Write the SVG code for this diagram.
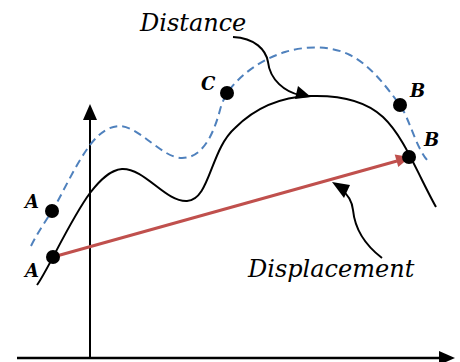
<svg xmlns="http://www.w3.org/2000/svg" width="460" height="362" viewBox="0 0 460 362">
<style>
.lbl{font-family:"DejaVu Serif","Liberation Serif",serif;font-style:italic;fill:#000}
.big{font-size:24px}
.pt{font-size:18px;font-weight:bold}
.blk{fill:none;stroke:#000;stroke-width:2}
.dot{fill:#000}
</style>
<rect width="460" height="362" fill="#fff"/>
<g id="connectors">
  <g id="axes">
    <line x1="90" y1="358" x2="90" y2="118" stroke="#000" stroke-width="2"/>
    <polygon points="90,104 83,120 97,120" fill="#000"/>
    <line x1="17" y1="358" x2="441" y2="358" stroke="#000" stroke-width="2.5"/>
    <polygon points="455,358 439,351 439,365" fill="#000"/>
  </g>
  <path id="path-actual" class="blk" d="M37,285 C48,270 70,220 90,193 C100,180 110,170 122,169 C145,168 165,202 187,201 C210,200 210,150 235,128 C255,108 280,97 310,96 C340,95 365,100 383,117 C400,133 412,160 422,180 C428,192 432,200 436,207"/>
  <path id="path-dashed" fill="none" stroke="#4F81BD" stroke-width="2" stroke-dasharray="8,5" d="M31,246 C38,232 45,222 52,211 C62,195 75,165 90,145 C100,132 110,126 120,126 C140,127 162,158 182,158 C200,158 212,140 220,110 C222,102 225,97 227,93 C240,75 260,60 285,52 C305,46 330,45 350,55 C370,65 385,85 400,105 C410,120 415,145 427,160"/>
  <g id="displacement-arrow">
    <line x1="53" y1="257" x2="397" y2="161" stroke="#C0504D" stroke-width="3"/>
    <polygon points="410,157 394.7,154.5 398.3,167.1" fill="#C0504D"/>
  </g>
  <g id="distance-leader">
    <path class="blk" d="M233,37 C255,38 266,50 268,62 C270,80 285,92 300,95"/>
    <polygon points="295,99 298,86 311,97" fill="#000"/>
  </g>
  <g id="displacement-leader">
    <path class="blk" d="M382,258 C365,245 355,230 353,210 C352,200 345,192 340,188"/>
    <polygon points="332,182 350,185 344,198" fill="#000"/>
  </g>
</g>
<g id="point-A1"><circle class="dot" cx="52" cy="211" r="7"/><text class="lbl pt" x="25" y="208">A</text></g>
<g id="point-A2"><circle class="dot" cx="53" cy="257" r="7"/><text class="lbl pt" x="25" y="277">A</text></g>
<g id="point-C"><circle class="dot" cx="227" cy="93" r="7"/><text class="lbl pt" x="201" y="90">C</text></g>
<g id="point-B1"><circle class="dot" cx="400" cy="105" r="7"/><text class="lbl pt" x="410" y="97">B</text></g>
<g id="point-B2"><circle class="dot" cx="409" cy="157" r="7"/><text class="lbl pt" x="424" y="146">B</text></g>
<g id="label-distance"><text class="lbl big" x="140" y="31">Distance</text></g>
<g id="label-displacement"><text class="lbl big" x="248" y="277">Displacement</text></g>
</svg>
